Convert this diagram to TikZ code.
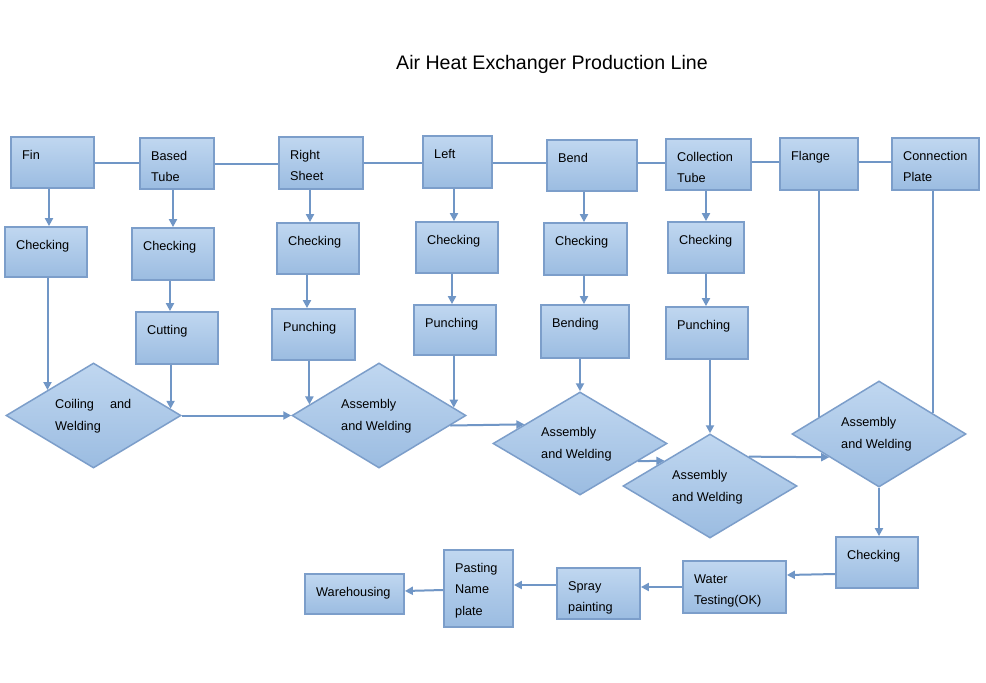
\documentclass[tikz,border=0pt]{standalone}
\usepackage{fontspec}
\setmainfont{Liberation Sans}
\usetikzlibrary{shapes.geometric,arrows.meta}
\definecolor{fillT}{RGB}{192,215,240}
\definecolor{fillB}{RGB}{155,188,225}
\definecolor{edge}{RGB}{124,158,202}
\definecolor{conn}{RGB}{112,150,198}
\tikzset{
  boxs/.style={draw=edge, line width=1.8pt, top color=fillT, bottom color=fillB, inner sep=0pt, rectangle},
  dias/.style={draw=edge, line width=1.5pt, top color=fillT, bottom color=fillB, inner sep=0pt, diamond},
  txt/.style={anchor=base west, inner sep=0pt, font=\fontsize{12.7}{21.5}\selectfont},
  ln/.style={draw=conn, line width=2pt},
  arr/.style={ln, -{Triangle[length=8pt,width=8pt]}}
}
\newcommand\tl[1]{\hbox{#1}}
\newcommand\pbox[6]{%
  \node[boxs, minimum width={#4-#2}, minimum height={#5-#3}] (#1) at ({(#2+#4)/2},{(#3+#5)/2}) {};
  \node[txt] (#1-t) at ({#2+11},{#3+22}) {\vtop{#6}};
}
\newcommand\pdia[8]{%
  \node[dias, minimum width={2*#4}, minimum height={2*#5}] (#1) at (#2,#3) {};
  \node[txt] (#1-t) at (#6,#7) {\vtop{#8}};
}
\begin{document}
\begin{tikzpicture}[x=1pt,y=-1pt]
\useasboundingbox[fill=white] (0,0) rectangle (986,683);
\node[anchor=base, inner sep=0pt, font=\fontsize{19.6}{24}\selectfont] (title) at (552,69) {Air Heat Exchanger Production Line};
% top row
\pbox{fin}{11}{137}{94}{188}{\tl{Fin}}
\pbox{bt}{140}{138}{214}{189}{\tl{Based}\tl{Tube}}
\pbox{rs}{279}{137}{363}{189}{\tl{Right}\tl{Sheet}}
\pbox{lf}{423}{136}{492}{188}{\tl{Left}}
\pbox{bd}{547}{140}{637}{191}{\tl{Bend}}
\pbox{ct}{666}{139}{751}{190}{\tl{Collection}\tl{Tube}}
\pbox{fl}{780}{138}{858}{190}{\tl{Flange}}
\pbox{cp}{892}{138}{979}{190}{\tl{Connection}\tl{Plate}}
% checking row
\pbox{c1}{5}{227}{87}{277}{\tl{Checking}}
\pbox{c2}{132}{228}{214}{280}{\tl{Checking}}
\pbox{c3}{277}{223}{359}{274}{\tl{Checking}}
\pbox{c4}{416}{222}{498}{273}{\tl{Checking}}
\pbox{c5}{544}{223}{627}{275}{\tl{Checking}}
\pbox{c6}{668}{222}{744}{273}{\tl{Checking}}
% third row
\pbox{cut}{136}{312}{218}{364}{\tl{Cutting}}
\pbox{p3}{272}{309}{355}{360}{\tl{Punching}}
\pbox{p4}{414}{305}{496}{355}{\tl{Punching}}
\pbox{bn}{541}{305}{629}{358}{\tl{Bending}}
\pbox{p6}{666}{307}{748}{359}{\tl{Punching}}
% diamonds
\pdia{d1}{93.5}{415.5}{87.5}{52.5}{55}{408.5}{\tl{Coiling\hspace{16pt}and}\tl{Welding}}
\pdia{d2}{379}{415.5}{87}{52.5}{341}{408.5}{\tl{Assembly}\tl{and Welding}}
\pdia{d3}{580}{443.5}{87}{51.5}{541}{436.5}{\tl{Assembly}\tl{and Welding}}
\pdia{d4}{710}{486}{87}{52}{672}{479.5}{\tl{Assembly}\tl{and Welding}}
\pdia{d5}{879}{434}{87}{53}{841}{426.5}{\tl{Assembly}\tl{and Welding}}
% bottom row
\pbox{c7}{836}{537}{918}{588}{\tl{Checking}}
\pbox{wt}{683}{561}{786}{613}{\tl{Water}\tl{Testing(OK)}}
\pbox{sp}{557}{568}{640}{619}{\tl{Spray}\tl{painting}}
\pbox{pn}{444}{550}{513}{627}{\tl{Pasting}\tl{Name}\tl{plate}}
\pbox{wh}{305}{574}{404}{614}{\tl{Warehousing}}
% top row lines
\draw[ln] (fin.east |- 0,163) -- (bt.west |- 0,163);
\draw[ln] (bt.east |- 0,164) -- (rs.west |- 0,164);
\draw[ln] (rs.east |- 0,163) -- (lf.west |- 0,163);
\draw[ln] (lf.east |- 0,163) -- (bd.west |- 0,163);
\draw[ln] (bd.east |- 0,163) -- (ct.west |- 0,163);
\draw[ln] (ct.east |- 0,162) -- (fl.west |- 0,162);
\draw[ln] (fl.east |- 0,162) -- (cp.west |- 0,162);
% top to checking
\draw[arr] (fin.south -| 49,0) -- (c1.north -| 49,0);
\draw[arr] (bt.south -| 173,0) -- (c2.north -| 173,0);
\draw[arr] (rs.south -| 310,0) -- (c3.north -| 310,0);
\draw[arr] (lf.south -| 454,0) -- (c4.north -| 454,0);
\draw[arr] (bd.south -| 584,0) -- (c5.north -| 584,0);
\draw[arr] (ct.south -| 706,0) -- (c6.north -| 706,0);
% checking to third row
\draw[arr] (c2.south -| 170,0) -- (cut.north -| 170,0);
\draw[arr] (c3.south -| 307,0) -- (p3.north -| 307,0);
\draw[arr] (c4.south -| 452,0) -- (p4.north -| 452,0);
\draw[arr] (c5.south -| 584,0) -- (bn.north -| 584,0);
\draw[arr] (c6.south -| 706,0) -- (p6.north -| 706,0);
% into diamonds
\draw[arr] (c1.south -| d1.151) -- (d1.151);
\draw[arr] (cut.south -| d1.5.4) -- (d1.5.4);
\draw[arr] (d1.east) -- (d2.west);
\draw[arr] (p3.south -| d2.171) -- (d2.171);
\draw[arr] (p4.south -| d2.6) -- (d2.6);
\draw[arr] (d2.-8.6) -- (d3.161.6);
\draw[arr] (bn.south -| d3.north) -- (d3.north);
\draw[arr] (d3.-17) -- (d4.151);
\draw[arr] (p6.south -| d4.north) -- (d4.north);
\draw[arr] (d4.37) -- (d5.205);
\draw[ln] (fl.south -| d5.164.7) -- (d5.164.7);
\draw[ln] (cp.south -| d5.21.3) -- (d5.21.3);
\draw[arr] (d5.south) -- (c7.north -| d5.south);
% bottom row
\draw[arr] (c7.west |- 0,574) -- (wt.east |- 0,575);
\draw[arr] (wt.west |- 0,587) -- (sp.east |- 0,587);
\draw[arr] (sp.west |- 0,585) -- (pn.east |- 0,585);
\draw[arr] (pn.west |- 0,590) -- (wh.east |- 0,591);
\end{tikzpicture}
\end{document}
